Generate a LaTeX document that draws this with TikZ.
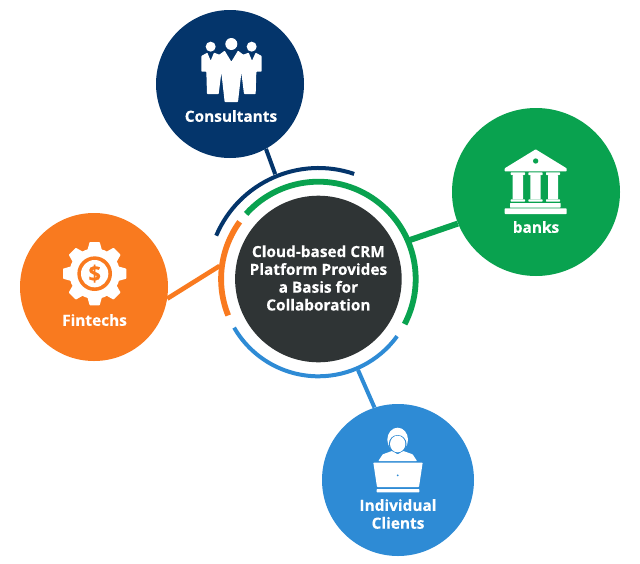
\documentclass[tikz,border=0pt]{standalone}
\usepackage{fontspec}
\usetikzlibrary{calc}
\setmainfont{Open Sans}[BoldFont={Open Sans Bold},BoldFeatures={FakeBold=0.25}]
\definecolor{cnavy}{HTML}{04356B}
\definecolor{cgreen}{HTML}{09A24F}
\definecolor{corange}{HTML}{F97A1F}
\definecolor{cblue}{HTML}{2E8BD5}
\definecolor{cdark}{HTML}{2F3435}
\tikzset{
 hub/.style={circle,fill=#1,draw=none,inner sep=0pt},
 lbl/.style={text=white,font=\bfseries\fontsize{15.4}{17.8}\selectfont,align=center,inner sep=0pt},
 thickarc/.style={line width=5.8pt},
 thinarc/.style={line width=4pt},
 icon/.style={fill=white,draw=none,rounded corners=0.6pt}
}
\begin{document}
\begin{tikzpicture}[x=1pt,y=-1pt]
\useasboundingbox (0,0) rectangle (640,563);
\fill[white] (0,0) rectangle (640,563);
% coordinates
\coordinate (c) at (318.4,279);
\coordinate (jn) at (275.2,174.2);
\coordinate (jg) at (410,240);
\coordinate (jo) at (219.5,266);
\coordinate (jb) at (358,370);
% hubs
\node[hub=cdark,minimum size=166.6pt] (center) at (c) {};
\node[hub=cnavy,minimum size=148pt] (consultants) at (230,84) {};
\node[hub=cgreen,minimum size=168pt] (banks) at (536,192) {};
\node[hub=corange,minimum size=148pt] (fintechs) at (94,287) {};
\node[hub=cblue,minimum size=152pt] (clients) at (398,480) {};
% connectors
\draw[cnavy,thinarc] (consultants.-61) -- (jn);
\draw[cgreen,line width=6pt] (banks.202) -- (jg);
\draw[corange,line width=4.6pt] (fintechs.-9) -- (jo);
\draw[cblue,line width=4pt] (clients.108) -- (jb);
% arcs: the y axis points down, so visual angle a is written -a
\draw[cnavy,thinarc] ($(c)+(-157:111)$) arc[start angle=-157,end angle=-71.2,radius=111];
\draw[cgreen,thickarc] ($(c)+(-138:97.3)$) arc[start angle=-138,end angle=27.6,radius=97.3];
\draw[corange,thickarc] ($(c)+(-144:97.3)$) arc[start angle=-144,end angle=-202,radius=97.3];
\draw[cblue,thinarc] ($(c)+(-210:97.3)$) arc[start angle=-210,end angle=-324,radius=97.3];
% texts
\node[lbl] (centertext) at (318.4,278) {Cloud-based CRM\\Platform Provides\\a Basis for\\Collaboration};
\node[lbl] (consultantstext) at (231,116) {Consultants};
\node[lbl] (bankstext) at (536,227) {banks};
\node[lbl] (fintechstext) at (94.5,320) {Fintechs};
\node[lbl] (clientstext) at (398,514) {Individual\\Clients};
% consultants icon
\begin{scope}[shift={(180,20)},scale=1/3]
 \fill[white] (92,80) circle (15) (154,72) circle (18) (215,80) circle (15);
 \fill[icon] (64,108)--(82,98)--(92,122)--(102,98)--(118,104)--(134,92)--(154,125)--(174,92)--(190,104)--(206,98)--(216,122)--(227,98)--(245,108)--(245,155)--(229,155)--(227,222)--(192,222)--(184,158)--(174,246)--(134,246)--(124,158)--(116,222)--(81,222)--(79,155)--(64,155)--cycle;
\end{scope}
% bank icon
\begin{scope}[shift={(490,140)},scale=1/3]
 \fill[icon] (137,28)--(230,85)--(230,94)--(44,94)--(44,85)--cycle;
 \fill[cgreen] (137,63) circle (8);
 \foreach \xa/\xb in {62/105,115/158,168/210}{
  \fill[icon] (\xa,97) rectangle (\xb,105);
  \fill[icon] (\xa+6,105) rectangle (\xb-6,178);
  \fill[icon] (\xa,178) rectangle (\xb,185);
 }
 \fill[icon] (60,189) rectangle (212,203);
 \fill[icon] (44,205) rectangle (230,222);
\end{scope}
% gear icon
\begin{scope}[shift={(50,230)},scale=1/3]
 \fill[white] (134,131) circle (76);
 \foreach \a in {0,45,...,315}{
  \begin{scope}[shift={(134,131)},rotate=\a]
   \fill[icon] (-70,-22)--(-95,-15)--(-95,15)--(-70,22)--cycle;
  \end{scope}
 }
 \fill[corange] (134,131) circle (52);
 \fill[white] (134,131) circle (41);
 \node[text=corange,font=\bfseries\fontsize{22}{22}\selectfont,inner sep=0pt] (dollar) at (134,131) {\$};
\end{scope}
% user icon
\begin{scope}[shift={(360,415)},scale=1/3]
 \fill[white] (113,74) ellipse (31 and 36);
 \fill[cblue] (113,87) ellipse (26.5 and 27);
 \fill[white] (113,87) ellipse (23 and 25);
 \fill[icon] (55,138)--(68,118)--(96,108)--(113,118)--(130,108)--(158,118)--(171,138)--cycle;
 \fill[icon] (40,143)--(188,143)--(177,216)--(51,216)--cycle;
 \fill[cblue] (113,181) circle (3);
 \fill[icon] (50,222) rectangle (178,232);
\end{scope}
\end{tikzpicture}
\end{document}
